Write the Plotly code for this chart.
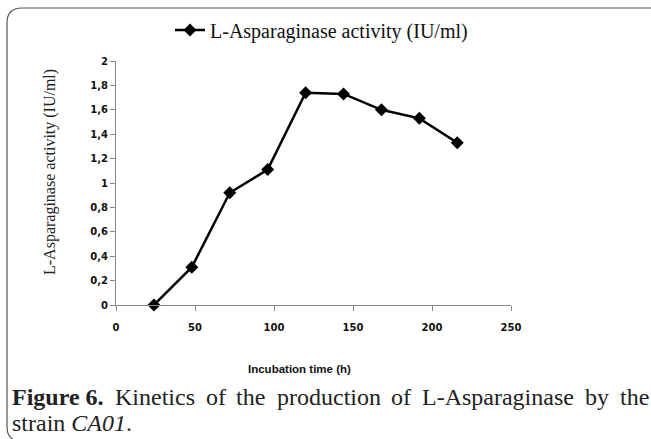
import plotly.graph_objects as go

# Data
time_h = [24, 48, 72, 96, 120, 144, 168, 192, 216]
activity = [0.0, 0.31, 0.92, 1.11, 1.74, 1.73, 1.60, 1.53, 1.33]
y_tickvals = [0, 0.2, 0.4, 0.6, 0.8, 1.0, 1.2, 1.4, 1.6, 1.8, 2.0]
y_ticktext = ["0", "0,2", "0,4", "0,6", "0,8", "1", "1,2", "1,4", "1,6", "1,8", "2"]
x_tickvals = [0, 50, 100, 150, 200, 250]
series_name = "L-Asparaginase activity (IU/ml)"
x_title = "Incubation time (h)"
caption_words = ["<b>Figure 6.</b>", "Kinetics", "of", "the", "production", "of",
                 "L-Asparaginase", "by", "the"]
caption_line2 = "strain <i>CA01</i>."

W, H = 651, 439
L, R, T, B = 116, 140, 61, 134
PW, PH = W - L - R, H - T - B

def px(x):
    return (x - L) / PW

def py(y):
    return (H - B - y) / PH

fig = go.Figure()
fig.add_trace(go.Scatter(
    x=time_h, y=activity, mode="lines+markers", name=series_name,
    line=dict(color="black", width=2.5),
    marker=dict(symbol="diamond", size=10, color="black"),
    cliponaxis=False,
))

axis_font = dict(family="DejaVu Sans", size=10, color="#111", weight="bold")
fig.update_layout(
    width=W, height=H,
    margin=dict(l=L, r=R, t=T, b=B, autoexpand=False),
    paper_bgcolor="white", plot_bgcolor="white",
    showlegend=True,
    legend=dict(x=px(170), y=py(30), xanchor="left", yanchor="middle",
                orientation="h", bgcolor="rgba(0,0,0,0)",
                font=dict(family="Liberation Serif", size=20, color="#111")),
    xaxis=dict(range=[0, 250], tickvals=x_tickvals, showline=True,
               linecolor="#888", linewidth=1, ticks="outside", ticklen=5,
               tickcolor="#888", showgrid=False, zeroline=False,
               tickfont=axis_font, ticklabelstandoff=8),
    yaxis=dict(range=[0, 2], tickvals=y_tickvals, ticktext=y_ticktext,
               showline=True, linecolor="#888", linewidth=1, ticks="outside",
               ticklen=5, tickcolor="#888", showgrid=False, zeroline=False,
               tickfont=axis_font),
)

fig.add_annotation(text=series_name, x=px(50), y=py(172), xref="paper", yref="paper",
                   textangle=-90, showarrow=False, xanchor="center", yanchor="middle",
                   font=dict(family="Liberation Serif", size=16, color="#222"))
fig.add_annotation(text=x_title, x=px(299), y=py(369), xref="paper", yref="paper",
                   showarrow=False, xanchor="center", yanchor="middle",
                   font=dict(family="Liberation Sans", size=11.5, color="#111", weight="bold"))

# Justified caption line: spread words between left and right edges
FS = 24
em = {" ": 250, "a": 444, "b": 500, "c": 444, "d": 500, "e": 444, "g": 500, "h": 500,
      "i": 278, "n": 500, "o": 500, "p": 500, "r": 333, "s": 389, "t": 278, "u": 500,
      "y": 500, "f": 333, "-": 333, "A": 722, "K": 722, "L": 611, ".": 250}
emb = {"F": 611, "i": 278, "g": 500, "u": 556, "r": 444, "e": 444, " ": 250, "6": 500, ".": 250}

def word_width(w):
    if w.startswith("<b>"):
        plain = w[3:-4]
        return sum(emb[c] for c in plain) * FS / 1000
    return sum(em[c] for c in w) * FS / 1000

widths = [word_width(w) for w in caption_words]
x0, x1 = 11, 648
gap = (x1 - x0 - sum(widths)) / (len(caption_words) - 1)
xc = x0
for w, wd in zip(caption_words, widths):
    fig.add_annotation(text=w, x=px(xc), y=py(397), xref="paper", yref="paper",
                       showarrow=False, xanchor="left", yanchor="middle", borderpad=0,
                       font=dict(family="Liberation Serif", size=FS, color="#222"))
    xc += wd + gap

fig.add_annotation(text=caption_line2, x=px(11), y=py(423), xref="paper", yref="paper",
                   showarrow=False, xanchor="left", yanchor="middle", borderpad=0,
                   font=dict(family="Liberation Serif", size=FS, color="#222"))

border = (f"M {px(651)},{py(8)} L {px(22)},{py(8)} Q {px(7)},{py(8)} {px(7)},{py(23)} "
          f"L {px(7)},{py(426)} Q {px(7)},{py(437)} {px(13)},{py(439)}")
fig.add_shape(type="path", path=border, xref="paper", yref="paper",
              line=dict(color="#555", width=1.2))

fig.write_html("out.html", config={"displayModeBar": False},
               post_script="document.body.style.margin='0';document.body.style.overflow='hidden';")
